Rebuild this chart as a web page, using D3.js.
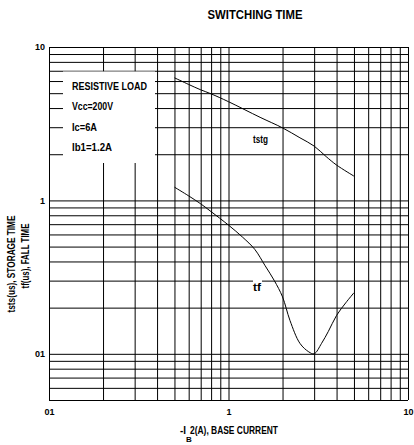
<!DOCTYPE html>
<html>
<head>
<meta charset="utf-8">
<script src="https://cdn.jsdelivr.net/npm/d3@7"></script>
<style>
    body { margin: 0; background: #fff; }
    text { font-family: "Liberation Sans Narrow", "Arial Narrow", "Liberation Sans", Arial, sans-serif; font-weight: bold; fill: #000; }
</style>
</head>
<body>
<svg id="chart" width="414" height="445"></svg>
<script>
    // values
    var ibStorage = [0.5, 0.6, 0.7, 0.8, 1, 1.5, 2, 2.5, 3, 3.5, 4, 5];
    var tstgValues = [6.3, 5.7, 5.26, 4.95, 4.4, 3.48, 2.97, 2.56, 2.26, 1.93, 1.7, 1.44];

    var ibFall = [0.5, 0.6, 0.7, 0.8, 1, 1.2, 1.4, 1.6, 1.8, 2, 2.2, 2.5, 2.8, 3, 3.3, 3.6, 4, 4.5, 5];
    var tfValues = [1.22, 1.07, 0.95, 0.845, 0.69, 0.575, 0.48, 0.375, 0.30, 0.235, 0.165, 0.117, 0.103, 0.10, 0.117, 0.14, 0.178, 0.215, 0.25];

    var xGrid = [0.1, 0.2, 0.3, 0.4, 0.5, 0.6, 0.7, 0.8, 0.9, 1, 2, 3, 4, 5, 6, 7, 8, 9, 10];
    var yGrid = [0.05, 0.06, 0.07, 0.08, 0.09, 0.1, 0.2, 0.3, 0.4, 0.5, 0.6, 0.7, 0.8, 0.9, 1, 2, 3, 4, 5, 6, 7, 8, 9, 10];
    var xTickLabels = {0.1: "01", 1: "1", 10: "10"};
    var yTickLabels = {0.1: "01", 1: "1", 10: "10"};

    var legendLines = ["RESISTIVE LOAD", "Vcc=200V", "Ic=6A", "Ib1=1.2A"];
    var legendWidths = [75, 41, 25, 40];

    (function () {
        var svg = d3.select("#chart");
        // note: "top" is taken by window.top, so plot edges get their own names
        var plotLeft = 49, plotRight = 408, plotTop = 47, plotBottom = 400;

        var x = d3.scaleLog().domain([0.1, 10]).range([plotLeft, plotRight]);
        var y = d3.scaleLog().domain([0.05, 10]).range([plotBottom, plotTop]);

        // grid via the axes, long inner ticks
        var xAxis = d3.axisBottom(x)
            .tickValues(xGrid)
            .tickSize(-(plotBottom - plotTop))
            .tickPadding(9)
            .tickFormat(function (d) { return xTickLabels[d] || ""; });

        var yAxis = d3.axisLeft(y)
            .tickValues(yGrid)
            .tickSize(-(plotRight - plotLeft))
            .tickPadding(4)
            .tickFormat(function (d) { return yTickLabels[d] || ""; });

        var gx = svg.append("g")
            .attr("transform", "translate(0," + plotBottom + ")")
            .call(xAxis);
        var gy = svg.append("g")
            .attr("transform", "translate(" + plotLeft + ",0)")
            .call(yAxis);

        [gx, gy].forEach(function (g) {
            g.select(".domain").remove();
            g.selectAll("line").attr("stroke", "#000").attr("stroke-width", 1);
            g.selectAll("text")
                .style("font-family", "'Liberation Sans Narrow', 'Arial Narrow', 'Liberation Sans', sans-serif")
                .style("font-weight", "bold")
                .style("font-size", "9px")
                .attr("fill", "#000");
        });

        // white box for the test conditions
        svg.append("rect")
            .attr("x", 63).attr("y", 71.5)
            .attr("width", 92).attr("height", 91.5)
            .attr("fill", "#fff");

        svg.selectAll(".legend")
            .data(legendLines)
            .enter().append("text")
            .attr("class", "legend")
            .attr("x", 72)
            .attr("y", function (d, i) { return 86 + i * 20.3; })
            .attr("dominant-baseline", "central")
            .style("font-size", "11px")
            .attr("textLength", function (d, i) { return legendWidths[i]; })
            .attr("lengthAdjust", "spacingAndGlyphs")
            .text(function (d) { return d; });

        var line = d3.line()
            .x(function (d) { return x(d[0]); })
            .y(function (d) { return y(d[1]); })
            .curve(d3.curveCatmullRom.alpha(0.5));

        svg.append("path")
            .attr("d", line(d3.zip(ibStorage, tstgValues)))
            .attr("fill", "none")
            .attr("stroke", "#000")
            .attr("stroke-width", 1);

        svg.append("path")
            .attr("d", line(d3.zip(ibFall, tfValues)))
            .attr("fill", "none")
            .attr("stroke", "#000")
            .attr("stroke-width", 1);

        // curve labels
        svg.append("text")
            .attr("x", 253).attr("y", 139)
            .attr("dominant-baseline", "central")
            .style("font-size", "11px")
            .attr("textLength", 15).attr("lengthAdjust", "spacingAndGlyphs")
            .text("tstg");

        svg.append("rect")
            .attr("x", 253).attr("y", 279)
            .attr("width", 9).attr("height", 14)
            .attr("fill", "#fff");
        svg.append("text")
            .attr("x", 253).attr("y", 287)
            .attr("dominant-baseline", "central")
            .style("font-size", "11px")
            .attr("textLength", 8).attr("lengthAdjust", "spacingAndGlyphs")
            .text("tf");

        // titles
        svg.append("text")
            .attr("x", 255).attr("y", 14)
            .attr("text-anchor", "middle")
            .attr("dominant-baseline", "central")
            .style("font-size", "13px")
            .attr("textLength", 95).attr("lengthAdjust", "spacingAndGlyphs")
            .text("SWITCHING TIME");

        svg.append("text")
            .attr("x", 180).attr("y", 430)
            .attr("dominant-baseline", "central")
            .style("font-size", "10px")
            .attr("textLength", 6).attr("lengthAdjust", "spacingAndGlyphs")
            .text("-I");
        svg.append("text")
            .attr("x", 186).attr("y", 439)
            .attr("dominant-baseline", "central")
            .style("font-size", "8px")
            .text("B");
        svg.append("text")
            .attr("x", 190).attr("y", 430)
            .attr("dominant-baseline", "central")
            .style("font-size", "10px")
            .attr("textLength", 88).attr("lengthAdjust", "spacingAndGlyphs")
            .text("2(A), BASE CURRENT");

        svg.append("text")
            .attr("transform", "translate(11,264) rotate(-90)")
            .attr("text-anchor", "middle")
            .attr("dominant-baseline", "central")
            .style("font-size", "10px")
            .attr("textLength", 97).attr("lengthAdjust", "spacingAndGlyphs")
            .text("tsts(us), STORAGE TIME");

        svg.append("text")
            .attr("transform", "translate(25,256) rotate(-90)")
            .attr("text-anchor", "middle")
            .attr("dominant-baseline", "central")
            .style("font-size", "10px")
            .attr("textLength", 65).attr("lengthAdjust", "spacingAndGlyphs")
            .text("tf(us), FALL TIME");
    })();
</script>
</body>
</html>
